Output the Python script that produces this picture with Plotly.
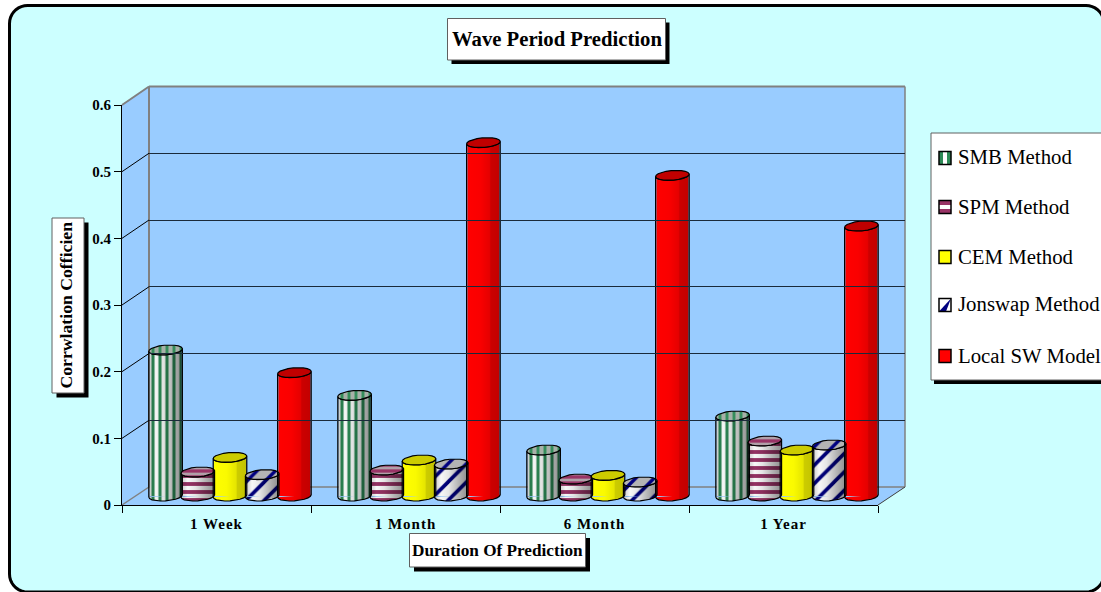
import math
import plotly.graph_objects as go

W, H = 1101, 592

categories = ["1 Week", "1 Month", "6 Month", "1 Year"]
smb_method = [0.219, 0.151, 0.069, 0.120]
spm_method = [0.036, 0.039, 0.0255, 0.0825]
cem_method = [0.058, 0.054, 0.031, 0.069]
jonswap_method = [0.032, 0.048, 0.021, 0.0765]
local_sw_model = [0.185, 0.530, 0.481, 0.405]
y_ticks = [0, 0.1, 0.2, 0.3, 0.4, 0.5, 0.6]
y_labels = ["0", "0.1", "0.2", "0.3", "0.4", "0.5", "0.6"]

SERIF = "Liberation Serif"
WALL = "#99CCFF"
GREY = "#808080"

GLASS = [[0, "rgba(0,0,0,0.22)"], [0.2, "rgba(0,0,0,0.03)"], [0.42, "rgba(0,0,0,0.10)"],
         [0.7, "rgba(0,0,0,0.28)"], [1, "rgba(0,0,0,0.45)"]]
SOLID = [[0, "rgba(0,0,0,0)"], [0.4, "rgba(0,0,0,0.02)"], [0.68, "rgba(0,0,0,0.10)"],
         [0.72, "rgba(0,0,0,0.20)"], [1, "rgba(0,0,0,0.24)"]]


def stripes(shape, fg, bg, size, solidity):
    return dict(shape=shape, fgcolor=fg, bgcolor=bg, size=size, solidity=solidity, fgopacity=1)


series = [
    dict(name="SMB Method", values=smb_method, color="#FFFFFF",
         pattern=stripes("|", "#2E8B57", "#FFFFFF", 7, 0.45),
         cap=dict(fillpattern=stripes("|", "#2E8B57", "#A8B0A8", 7, 0.4)),
         shade=GLASS),
    dict(name="SPM Method", values=spm_method, color="#FFFFFF",
         pattern=stripes("-", "#993366", "#FFFFFF", 8, 0.48),
         cap=dict(fillpattern=stripes("-", "#993366", "#B0A0A8", 6, 0.55)),
         shade=GLASS),
    dict(name="CEM Method", values=cem_method, color="#FFFF00",
         pattern=None,
         cap=dict(fillcolor="#CCCC00"),
         shade=SOLID),
    dict(name="Jonswap Method", values=jonswap_method, color="#FFFFFF",
         pattern=stripes("/", "#000080", "#FFFFFF", 13, 0.28),
         cap=dict(fillpattern=stripes("/", "#000080", "#B4B4B4", 13, 0.26)),
         shade=GLASS),
    dict(name="Local SW Model", values=local_sw_model, color="#FF0000",
         pattern=None,
         cap=dict(fillcolor="#C00000"),
         shade=SOLID),
]

# Pixel extents of the three depth planes of the box
FRONT = dict(l=122, r=878, b=505, t=105)
BACK = dict(l=149, r=905, b=487, t=86.5)
MID = dict(l=135.5, r=891.5, b=496, t=96)
Y_MIN_MID = -0.02  # room under the zero line for the cylinder bases

px_per_unit = (MID["b"] - MID["t"]) / 0.6
px_per_cat = (MID["r"] - MID["l"]) / len(categories)
mid_bottom = MID["b"] - Y_MIN_MID * px_per_unit
positions = list(range(len(categories)))


def px(x):
    return x / W


def py(y):
    return 1 - y / H


fig = go.Figure()

# Invisible carrier so the front category axis knows its labels
fig.add_trace(go.Scatter(x=categories, y=[0] * len(categories), xaxis="x", yaxis="y",
                         mode="markers", marker=dict(opacity=0), hoverinfo="skip", showlegend=False))
# Back-wall axes hold the horizontal gridlines
fig.add_trace(go.Scatter(x=[0], y=[0], xaxis="x3", yaxis="y3", mode="markers",
                         marker=dict(opacity=0), hoverinfo="skip", showlegend=False))

STEP = 0.1704
BODY = 0.169
RX, DX, RY = 16.3 / px_per_cat, 4.0 / px_per_cat, 5.0 / px_per_unit
TILT = math.atan2(DX, RX)


def ring_point(cx, cy, t):
    return cx + RX * math.cos(t) + DX * math.sin(t), cy + RY * math.sin(t)


def arc(cx, cy, t0, t1, n=10):
    pts = [ring_point(cx, cy, t0 + (t1 - t0) * k / n) for k in range(n + 1)]
    return [p[0] for p in pts], [p[1] for p in pts]


for i, s in enumerate(series):
    marker = dict(color=s["color"], line=dict(width=0))
    if s["pattern"]:
        marker["pattern"] = s["pattern"]
    fig.add_trace(go.Bar(
        x=positions, y=s["values"], name=s["name"], xaxis="x2", yaxis="y2",
        width=BODY, offset=(i - 2) * STEP - BODY / 2, marker=marker, showlegend=False))

for i, s in enumerate(series):
    for k, v in enumerate(s["values"]):
        cx = k + (i - 2) * STEP
        # The right extreme of the ring sits at angle TILT, the left one half a turn away
        low_x, low_y = arc(cx, 0, TILT - math.pi, TILT)
        # Base of the cylinder
        base_kwargs = dict(fillpattern=s["pattern"]) if s["pattern"] else dict(fillcolor=s["color"])
        fig.add_trace(go.Scatter(
            x=low_x, y=low_y, xaxis="x2", yaxis="y2", mode="lines", fill="toself",
            line=dict(width=0), hoverinfo="skip", showlegend=False, **base_kwargs))
        # Shading and outline of the side wall
        top_x, top_y = arc(cx, v, TILT, TILT - math.pi)
        fig.add_trace(go.Scatter(
            x=low_x + top_x + low_x[:1], y=low_y + top_y + low_y[:1],
            xaxis="x2", yaxis="y2", mode="lines", fill="toself",
            fillgradient=dict(type="horizontal", colorscale=s["shade"]),
            line=dict(color="#000000", width=1.2), hoverinfo="skip", showlegend=False))
        # Cap
        cap_x, cap_y = arc(cx, v, 0, 2 * math.pi, n=20)
        fig.add_trace(go.Scatter(
            x=cap_x, y=cap_y, xaxis="x2", yaxis="y2", mode="lines", fill="toself",
            line=dict(color="#000000", width=1.2), hoverinfo="skip", showlegend=False, **s["cap"]))

shapes = []


def rect(x0, y0, x1, y1, fill, line_color=None, line_width=0, layer="below"):
    shapes.append(dict(type="rect", xref="paper", yref="paper", layer=layer,
                       x0=px(x0), x1=px(x1), y0=py(y0), y1=py(y1), fillcolor=fill,
                       line=dict(color=line_color or fill, width=line_width)))


def segment(x0, y0, x1, y1, color, width=1, layer="below"):
    shapes.append(dict(type="line", xref="paper", yref="paper", layer=layer,
                       x0=px(x0), x1=px(x1), y0=py(y0), y1=py(y1),
                       line=dict(color=color, width=width)))


def polygon(points, fill, layer="below"):
    path = "M" + " L".join(f"{px(x):.5f},{py(y):.5f}" for x, y in points) + " Z"
    shapes.append(dict(type="path", xref="paper", yref="paper", layer=layer, path=path,
                       fillcolor=fill, line=dict(width=0)))


# Rounded chart frame
FL, FT, FR, FB, FRAD = 9.5, 5.5, 1104, 592, 18
corner = []
for cx_, cy_, a0 in [(FR - FRAD, FT + FRAD, -90), (FR - FRAD, FB - FRAD, 0),
                     (FL + FRAD, FB - FRAD, 90), (FL + FRAD, FT + FRAD, 180)]:
    for deg in range(0, 91, 10):
        a = math.radians(a0 + deg)
        corner.append((cx_ + FRAD * math.cos(a), cy_ + FRAD * math.sin(a)))
frame = "M" + " L".join(f"{px(x):.5f},{py(y):.5f}" for x, y in corner) + " Z"
shapes.append(dict(type="path", xref="paper", yref="paper", layer="below", path=frame,
                   fillcolor="#CCFFFF", line=dict(color="#000000", width=3)))

# Walls and floor of the box
polygon([(FRONT["l"], FRONT["t"]), (BACK["l"], BACK["t"]), (BACK["r"], BACK["t"]),
         (BACK["r"], BACK["b"]), (FRONT["r"], FRONT["b"]), (FRONT["l"], FRONT["b"])], WALL)
segment(BACK["l"], BACK["t"], BACK["r"], BACK["t"], GREY, 2)
segment(BACK["l"], BACK["t"], BACK["l"], BACK["b"], GREY, 2)
segment(BACK["r"], BACK["t"], BACK["r"], BACK["b"], GREY, 1.5)
segment(BACK["l"], BACK["b"], BACK["r"], BACK["b"], GREY, 1.5)
segment(FRONT["l"], FRONT["b"], BACK["l"], BACK["b"], GREY, 1.5)
segment(FRONT["r"], FRONT["b"], BACK["r"], BACK["b"], "#404040", 1)
segment(FRONT["l"], FRONT["t"], BACK["l"], BACK["t"], GREY, 2)

# Diagonals carrying each tick from the front axis to the back wall
for tick in y_ticks[1:-1]:
    yf = FRONT["b"] - tick / 0.6 * (FRONT["b"] - FRONT["t"])
    yb = BACK["b"] - tick / 0.6 * (BACK["b"] - BACK["t"])
    segment(FRONT["l"], yf, BACK["l"], yb, "#000000", 1)

# Boxed titles with hard drop shadows
annotations = []


def boxed_title(x0, y0, x1, y1, shadow, text, size, angle=0, nudge_x=0):
    rect(x0 + shadow, y0 + shadow, x1 + shadow, y1 + shadow, "#000000", layer="above")
    rect(x0, y0, x1, y1, "#FFFFFF", "#606060", 1, layer="above")
    annotations.append(dict(
        xref="paper", yref="paper", showarrow=False, textangle=angle,
        x=px((x0 + x1) / 2 + nudge_x), y=py((y0 + y1) / 2),
        xanchor="center", yanchor="middle", text=f"<b>{text}</b>",
        font=dict(family=SERIF, size=size, color="#000000")))


boxed_title(447.5, 18.5, 665.5, 60, 4, "Wave Period Prediction", 20.7)
boxed_title(409.5, 533.5, 585.5, 567, 4.5, "Duration Of Prediction", 17.2)
boxed_title(52, 218, 84, 393, 4.5, "Corrwlation Cofficien", 17.7, angle=-90, nudge_x=-3)

# Legend panel
LEG_L, LEG_T, LEG_B = 931, 133, 380
rect(LEG_L + 3, LEG_T + 4, 1110, LEG_B + 4, "#000000", layer="above")
rect(LEG_L, LEG_T, 1110, LEG_B, "#FFFFFF", "#606060", 1, layer="above")
legend_rows = [158, 207, 257, 305, 356]
for s, row in zip(series, legend_rows):
    annotations.append(dict(
        xref="paper", yref="paper", showarrow=False, x=px(956), y=py(row - 1),
        xanchor="left", yanchor="middle", text=s["name"],
        font=dict(family=SERIF, size=20.8, color="#000000")))

SW_L, SW_R, SW_H = 939, 951, 6.5
# SMB swatch: vertical bars
y = legend_rows[0]
rect(SW_L, y - SW_H, SW_R, y + SW_H, "#FFFFFF", layer="above")
rect(SW_L, y - SW_H, SW_L + 4, y + SW_H, "#2E8B57", layer="above")
rect(SW_R - 4, y - SW_H, SW_R, y + SW_H, "#2E8B57", layer="above")
# SPM swatch: horizontal bars
y = legend_rows[1]
rect(SW_L, y - SW_H, SW_R, y + SW_H, "#FFFFFF", layer="above")
rect(SW_L, y - SW_H, SW_R, y - 2, "#993366", layer="above")
rect(SW_L, y + 2, SW_R, y + SW_H, "#993366", layer="above")
# CEM swatch: solid
y = legend_rows[2]
rect(SW_L, y - SW_H, SW_R, y + SW_H, "#FFFF00", layer="above")
# Jonswap swatch: diagonal split
y = legend_rows[3]
rect(SW_L, y - SW_H, SW_R, y + SW_H, "#FFFFFF", layer="above")
polygon([(SW_L, y + SW_H), (SW_R, y - SW_H), (SW_L + 7, y + SW_H)], "#000080", layer="above")
# Local SW swatch: solid
y = legend_rows[4]
rect(SW_L, y - SW_H, SW_R, y + SW_H, "#FF0000", layer="above")
for row in legend_rows:
    shapes.append(dict(type="rect", xref="paper", yref="paper", layer="above",
                       x0=px(SW_L), x1=px(SW_R), y0=py(row - SW_H), y1=py(row + SW_H),
                       line=dict(color="#000000", width=1.5), fillcolor="rgba(0,0,0,0)"))

TICK_FONT = dict(family=SERIF, size=15, color="#000000", weight="bold")

fig.update_layout(
    width=W, height=H, autosize=False,
    margin=dict(l=0, r=0, t=0, b=0),
    paper_bgcolor="#FFFFFF", plot_bgcolor="rgba(0,0,0,0)",
    barmode="overlay", showlegend=False,
    shapes=shapes, annotations=annotations,
    # Front plane: the visible axes
    xaxis=dict(domain=[px(FRONT["l"]), px(FRONT["r"])], anchor="y", type="category",
               categoryorder="array", categoryarray=categories,
               range=[-0.5, len(categories) - 0.5], tickson="boundaries",
               ticks="outside", ticklen=7, tickwidth=1, tickcolor="#000000",
               ticklabelstandoff=5,
               showline=True, linecolor="#000000", linewidth=1.2, showgrid=False, zeroline=False,
               tickfont=TICK_FONT, fixedrange=True, automargin=False),
    yaxis=dict(domain=[py(FRONT["b"]), py(FRONT["t"])], anchor="x", range=[0, 0.6],
               tickvals=y_ticks, ticktext=y_labels, ticks="outside", ticklen=7, tickwidth=1,
               tickcolor="#000000", showline=True, linecolor="#000000", linewidth=1.2,
               showgrid=False, zeroline=False, tickfont=TICK_FONT, fixedrange=True, automargin=False),
    # Middle plane: the cylinders
    xaxis2=dict(domain=[px(MID["l"]), px(MID["r"])], anchor="y2",
                range=[-0.5, len(categories) - 0.5], visible=False, fixedrange=True, automargin=False),
    yaxis2=dict(domain=[py(mid_bottom), py(MID["t"])], anchor="x2", range=[Y_MIN_MID, 0.6],
                visible=False, fixedrange=True, automargin=False),
    # Back plane: the gridlines
    xaxis3=dict(domain=[px(BACK["l"]), px(BACK["r"])], anchor="y3", range=[0, 1],
                visible=False, fixedrange=True, automargin=False),
    yaxis3=dict(domain=[py(BACK["b"]), py(BACK["t"])], anchor="x3", range=[0, 0.6],
                tickvals=y_ticks[1:-1], showticklabels=False, ticks="", showline=False,
                showgrid=True, gridcolor="#1A2A3A", gridwidth=1.2, zeroline=False, fixedrange=True,
                automargin=False),
)

# Open up the category labels a little
SPACING = "document.querySelectorAll('.xtick text').forEach(function(t){t.style.letterSpacing='1px';});"
fig.write_html("out.html", config=dict(displayModeBar=False), post_script=SPACING)
